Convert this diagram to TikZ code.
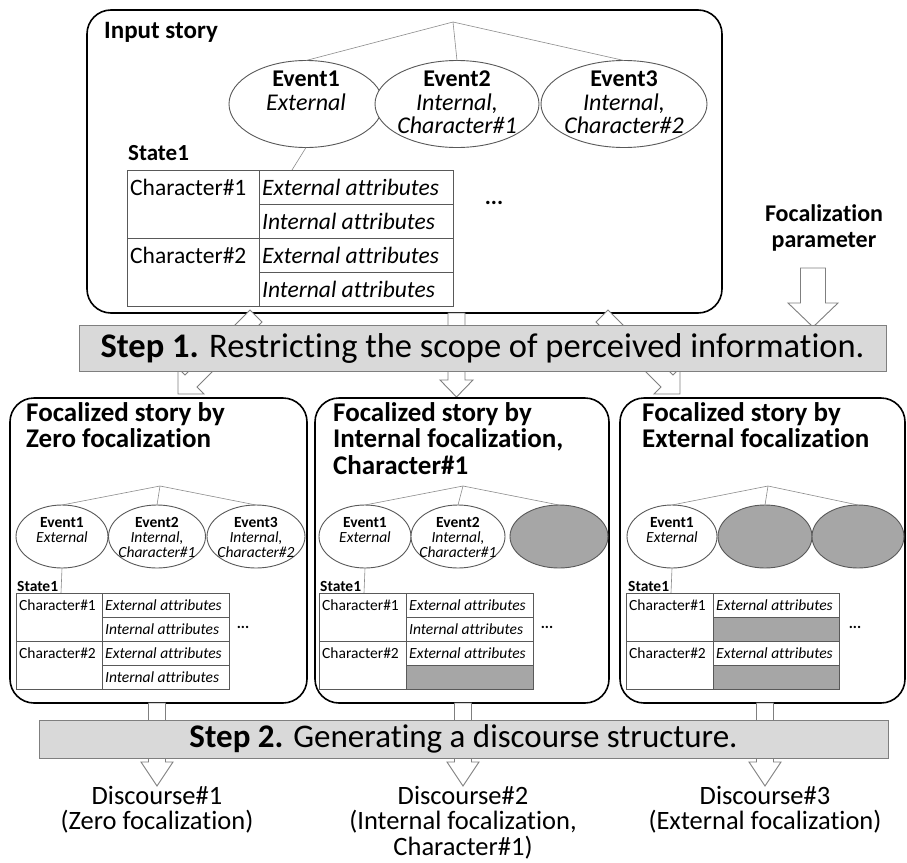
\documentclass[tikz,border=0pt]{standalone}
\usepackage{fontspec}
\setmainfont{Carlito}[Ligatures={NoCommon}]
\usetikzlibrary{shapes.geometric}

\definecolor{edge}{HTML}{595959}
\definecolor{twig}{HTML}{8C8C8C}
\definecolor{barfill}{HTML}{D9D9D9}
\definecolor{barline}{HTML}{7F7F7F}
\definecolor{hidden}{HTML}{A6A6A6}

\newcommand{\fsz}[2]{\fontsize{#1}{#2}\selectfont}

\tikzset{
  panel/.style={draw=black, line width=1.6pt, rounded corners=24pt, fill=white},
  evt/.style={ellipse, draw=edge, line width=0.9pt, fill=white, inner sep=0pt, outer sep=0pt},
  evtext/.style={anchor=north, align=center, inner sep=0pt},
  cell/.style={rectangle, draw=edge, line width=0.9pt, fill=white, inner sep=0pt,
    outer sep=0pt, anchor=north west},
  celltext/.style={anchor=west, inner sep=0pt},
  twigline/.style={draw=twig, line width=0.6pt},
  blockarrow/.style={draw=barline, line width=0.9pt, fill=white, line join=miter},
  stepbar/.style={rectangle, draw=barline, line width=0.9pt, fill=barfill, inner sep=0pt},
  title/.style={anchor=north west, align=left, inner sep=0pt, font=\fsz{27}{26.5}\bfseries},
  result/.style={anchor=north, align=center, inner sep=0pt, font=\fsz{26.5}{25.5}},
}

% vertical block arrow: centre x, top y, head-back y, tip y, shaft half width, head half width
\newcommand{\vblock}[6]{%
  \draw[blockarrow] (#1-#5,#2) -- (#1+#5,#2) -- (#1+#5,#3) -- (#1+#6,#3)
    -- (#1,#4) -- (#1-#6,#3) -- (#1-#5,#3) -- cycle;}

% state table: prefix, top-left x, y, column widths, row height, font,
% internal-attribute texts of both characters (empty = withheld cell)
\newcommand{\statetable}[9]{%
  \node[cell, minimum width=#4, minimum height=2*#6] (#1-c1) at (#2,#3) {};
  \node[cell, minimum width=#4, minimum height=2*#6] (#1-c2) at (#2,#3+2*#6) {};
  \node[cell, minimum width=#5, minimum height=#6] (#1-e1) at (#2+#4,#3) {};
  \node[cell, minimum width=#5, minimum height=#6] (#1-e2) at (#2+#4,#3+2*#6) {};
  \if\relax\detokenize{#8}\relax
    \node[cell, fill=hidden, minimum width=#5, minimum height=#6] (#1-i1) at (#2+#4,#3+#6) {};
  \else
    \node[cell, minimum width=#5, minimum height=#6] (#1-i1) at (#2+#4,#3+#6) {};
    \node[celltext, font=#7\itshape] at (#2+#4+3,#3+1.5*#6) {#8};
  \fi
  \if\relax\detokenize{#9}\relax
    \node[cell, fill=hidden, minimum width=#5, minimum height=#6] (#1-i2) at (#2+#4,#3+3*#6) {};
  \else
    \node[cell, minimum width=#5, minimum height=#6] (#1-i2) at (#2+#4,#3+3*#6) {};
    \node[celltext, font=#7\itshape] at (#2+#4+3,#3+3.5*#6) {#9};
  \fi
  \node[celltext, font=#7] at (#2+3,#3+0.5*#6) {Character\#1};
  \node[celltext, font=#7] at (#2+3,#3+2.5*#6) {Character\#2};
  \node[celltext, font=#7\itshape] at (#2+#4+3,#3+0.5*#6) {External attributes};
  \node[celltext, font=#7\itshape] at (#2+#4+3,#3+2.5*#6) {External attributes};
}

\begin{document}
\begin{tikzpicture}[x=1pt, y=-1pt]
\useasboundingbox (0,0) rectangle (907,862);

% ---------------- input story ----------------
\draw[panel] (87,10) rectangle (722,313);
\node[anchor=north west, inner sep=0pt, font=\fsz{25}{28}\bfseries] (intitle) at (104,22) {Input story};
\coordinate (iapex) at (453,22);
\node[evt, minimum width=154, minimum height=87] (ie1) at (306,104) {};
\node[evt, minimum width=164, minimum height=87] (ie2) at (457,104) {};
\node[evt, minimum width=166, minimum height=87] (ie3) at (624,104) {};
\draw[twigline] (iapex) -- (ie1.north);
\draw[twigline] (iapex) -- (ie2.north);
\draw[twigline] (iapex) -- (ie3.north);
\node[evtext, font=\fsz{24}{23.5}] at (306,71) {\textbf{Event1}\\\textit{External}};
\node[evtext, font=\fsz{24}{23.5}] at (457,71) {\textbf{Event2}\\\textit{Internal,}\\\textit{Character\#1}};
\node[evtext, font=\fsz{24}{23.5}] at (624,71) {\textbf{Event3}\\\textit{Internal,}\\\textit{Character\#2}};
\node[anchor=base west, inner sep=0pt, font=\fsz{23}{26}\bfseries] (istate) at (128,160) {State1};
\coordinate (itab) at (292,170);
\draw[twigline] (ie1.south) -- (itab);
\statetable{it}{127}{170}{132}{194}{34}{\fsz{23.5}{26}}{Internal attributes}{Internal attributes}
\node[font=\fsz{23}{26}\bfseries, inner sep=0pt] (idots) at (494,203) {...};

% ---------------- focalization parameter ----------------
\node[align=center, inner sep=0pt, font=\fsz{24}{26}\bfseries] (fparam) at (824,228) {Focalization\\parameter};
\vblock{813}{268}{303}{327}{12.5}{25}

% ---------------- step 1 ----------------
\draw[blockarrow] (250,310) -- (262,322) -- (197,387) -- (204,394) -- (178,394)
  -- (178,368) -- (185,375) -- cycle;
\vblock{456.5}{313}{380}{397}{8.5}{16.5}
\draw[blockarrow] (608,310) -- (596,322) -- (661,387) -- (654,394) -- (680,394)
  -- (680,368) -- (673,375) -- cycle;
\node[stepbar, minimum width=807, minimum height=46, font=\fsz{34.5}{38}] (step1) at (482.5,348)
  {\textbf{Step 1.} Restricting the scope of perceived information.};

% ---------------- focalized story: zero ----------------
\draw[panel] (10,398) rectangle (307,703);
\node[title] (ztitle) at (26,402) {Focalized story by\\Zero focalization};
\coordinate (zapex) at (160,486);
\node[evt, minimum width=92, minimum height=63] (ze1) at (62,536.5) {};
\node[evt, minimum width=97, minimum height=63] (ze2) at (157,536.5) {};
\node[evt, minimum width=98, minimum height=63] (ze3) at (256,536.5) {};
\draw[twigline] (zapex) -- (ze1.north);
\draw[twigline] (zapex) -- (ze2.north);
\draw[twigline] (zapex) -- (ze3.north);
\node[evtext, font=\fsz{15.5}{15}] at (62,517) {\textbf{Event1}\\\textit{External}};
\node[evtext, font=\fsz{15.5}{15}] at (157,517) {\textbf{Event2}\\\textit{Internal,}\\\textit{Character\#1}};
\node[evtext, font=\fsz{15.5}{15}] at (256,517) {\textbf{Event3}\\\textit{Internal,}\\\textit{Character\#2}};
\node[anchor=base west, inner sep=0pt, font=\fsz{15.5}{17}\bfseries] (zstate) at (17,591) {State1};
\coordinate (ztab) at (61,593);
\draw[twigline] (ze1.south) -- (ztab);
\statetable{zt}{16}{593}{86}{127}{24}{\fsz{15.5}{17}}{Internal attributes}{Internal attributes}
\node[font=\fsz{15.5}{17}\bfseries, inner sep=0pt] (zdots) at (243,627) {...};

% ---------------- focalized story: internal ----------------
\draw[panel] (315,398) rectangle (609,703);
\node[title] (ntitle) at (333,402) {Focalized story by\\Internal focalization,\\Character\#1};
\coordinate (napex) at (463,486);
\node[evt, minimum width=92, minimum height=63] (ne1) at (365,536.5) {};
\node[evt, minimum width=94, minimum height=63] (ne2) at (458,536.5) {};
\node[evt, fill=hidden, minimum width=98, minimum height=63] (ne3) at (559,536.5) {};
\draw[twigline] (napex) -- (ne1.north);
\draw[twigline] (napex) -- (ne2.north);
\draw[twigline] (napex) -- (ne3.north);
\node[evtext, font=\fsz{15.5}{15}] at (365,517) {\textbf{Event1}\\\textit{External}};
\node[evtext, font=\fsz{15.5}{15}] at (458,517) {\textbf{Event2}\\\textit{Internal,}\\\textit{Character\#1}};
\node[anchor=base west, inner sep=0pt, font=\fsz{15.5}{17}\bfseries] (nstate) at (320,591) {State1};
\coordinate (ntab) at (364,593);
\draw[twigline] (ne1.south) -- (ntab);
\statetable{nt}{319}{593}{87}{127}{24}{\fsz{15.5}{17}}{Internal attributes}{}
\node[font=\fsz{15.5}{17}\bfseries, inner sep=0pt] (ndots) at (547,627) {...};

% ---------------- focalized story: external ----------------
\draw[panel] (620,398) rectangle (905,703);
\node[title] (xtitle) at (642,402) {Focalized story by\\External focalization};
\coordinate (xapex) at (768,486);
\node[evt, minimum width=90, minimum height=63] (xe1) at (672,536.5) {};
\node[evt, fill=hidden, minimum width=94, minimum height=63] (xe2) at (765,536.5) {};
\node[evt, fill=hidden, minimum width=92, minimum height=63] (xe3) at (858,536.5) {};
\draw[twigline] (xapex) -- (xe1.north);
\draw[twigline] (xapex) -- (xe2.north);
\draw[twigline] (xapex) -- (xe3.north);
\node[evtext, font=\fsz{15.5}{15}] at (672,517) {\textbf{Event1}\\\textit{External}};
\node[anchor=base west, inner sep=0pt, font=\fsz{15.5}{17}\bfseries] (xstate) at (628,591) {State1};
\coordinate (xtab) at (671,593);
\draw[twigline] (xe1.south) -- (xtab);
\statetable{xt}{626}{593}{87}{126}{24}{\fsz{15.5}{17}}{}{}
\node[font=\fsz{15.5}{17}\bfseries, inner sep=0pt] (xdots) at (855,627) {...};

% ---------------- step 2 ----------------
\vblock{157}{703}{762}{786}{8.5}{16}
\vblock{463}{703}{762}{786}{8.5}{16}
\vblock{765}{703}{762}{786}{8.5}{16}
\node[stepbar, minimum width=849, minimum height=38, font=\fsz{33}{36}] (step2) at (463.5,739)
  {\textbf{Step 2.} Generating a discourse structure.};

% ---------------- discourses ----------------
\node[result] (d1) at (157,786) {Discourse\#1\\(Zero focalization)};
\node[result] (d2) at (463,786) {Discourse\#2\\(Internal focalization,\\Character\#1)};
\node[result] (d3) at (765,786) {Discourse\#3\\(External focalization)};
\end{tikzpicture}
\end{document}
